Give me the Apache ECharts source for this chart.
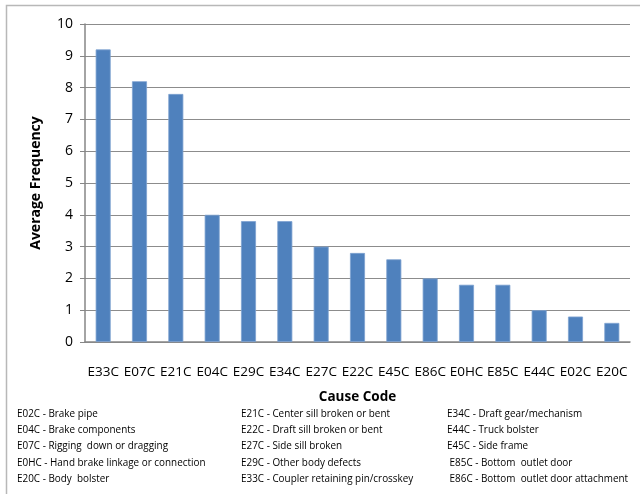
<!DOCTYPE html>
<html>
<head>
<meta charset="utf-8">
<script src="https://cdn.jsdelivr.net/npm/echarts@6/dist/echarts.min.js"></script>
<style>
  html, body { margin: 0; padding: 0; background: #fff; }
  #chart { width: 640px; height: 494px; }
</style>
</head>
<body>
<div id="chart"></div>
<script>
// Cause codes ordered by average frequency
const causeCodes = ['E33C', 'E07C', 'E21C', 'E04C', 'E29C', 'E34C', 'E27C', 'E22C',
                    'E45C', 'E86C', 'E0HC', 'E85C', 'E44C', 'E02C', 'E20C'];
const avgFrequency = [9.2, 8.2, 7.8, 4.0, 3.8, 3.8, 3.0, 2.8, 2.6, 2.0, 1.8, 1.8, 1.0, 0.8, 0.6];

// Key of cause code descriptions, three columns
const keyColumn1 = ['E02C - Brake pipe', 'E04C - Brake components', 'E07C - Rigging  down or dragging',
                    'E0HC - Hand brake linkage or connection', 'E20C - Body  bolster'];
const keyColumn2 = ['E21C - Center sill broken or bent', 'E22C - Draft sill broken or bent',
                    'E27C - Side sill broken', 'E29C - Other body defects',
                    'E33C - Coupler retaining pin/crosskey'];
const keyColumn3 = ['E34C - Draft gear/mechanism', 'E44C - Truck bolster', 'E45C - Side frame',
                    ' E85C - Bottom  outlet door', ' E86C - Bottom  outlet door attachment'];

const FONT = '"Open Sans", sans-serif';

const chart = echarts.init(document.getElementById('chart'), null, { renderer: 'canvas' });

// Key text, slightly condensed so the three columns fit the width
const keyText = [];
const colX = [17, 241, 447];
[keyColumn1, keyColumn2, keyColumn3].forEach((col, ci) => {
  col.forEach((t, ri) => {
    keyText.push({
      type: 'text',
      x: colX[ci],
      y: 408 + ri * 16.3,
      scaleX: 0.9,
      style: { text: t, font: '11px ' + FONT, fill: '#000', textVerticalAlign: 'top' }
    });
  });
});

chart.setOption({
  animation: false,
  grid: { left: 85, right: 10, top: 24, bottom: 152, containLabel: false },
  xAxis: {
    type: 'category',
    data: causeCodes,
    name: 'Cause Code',
    nameLocation: 'middle',
    nameGap: 48,
    nameTextStyle: { fontFamily: FONT, fontWeight: 'bold', fontSize: 13.5, color: '#000' },
    axisLine: { lineStyle: { color: '#868686', width: 1.5 } },
    axisTick: { show: false },
    axisLabel: { fontFamily: FONT, fontSize: 13.5, color: '#000', margin: 23, interval: 0 }
  },
  yAxis: {
    type: 'value',
    min: 0,
    max: 10,
    interval: 1,
    name: 'Average Frequency',
    nameLocation: 'middle',
    nameGap: 42,
    nameTextStyle: { fontFamily: FONT, fontWeight: 'bold', fontSize: 14, color: '#000' },
    axisLine: { show: true, lineStyle: { color: '#868686', width: 1.5 } },
    axisTick: { show: true, inside: false, length: 5, lineStyle: { color: '#868686' } },
    axisLabel: { fontFamily: FONT, fontSize: 14, color: '#000', margin: 12 },
    splitLine: { lineStyle: { color: '#8c8c8c', width: 1.2 } }
  },
  series: [{
    type: 'bar',
    data: avgFrequency,
    barWidth: 15,
    itemStyle: { color: '#4F81BD', borderColor: '#7ea2d0', borderWidth: 0.8 }
  }],
  graphic: [
    {
      type: 'polyline',
      shape: { points: [[6.5, 494], [6.5, 5.5], [640, 5.5]] },
      style: { stroke: '#b8b8b8', lineWidth: 1.5, fill: null }
    }
  ].concat(keyText)
});
</script>
</body>
</html>
